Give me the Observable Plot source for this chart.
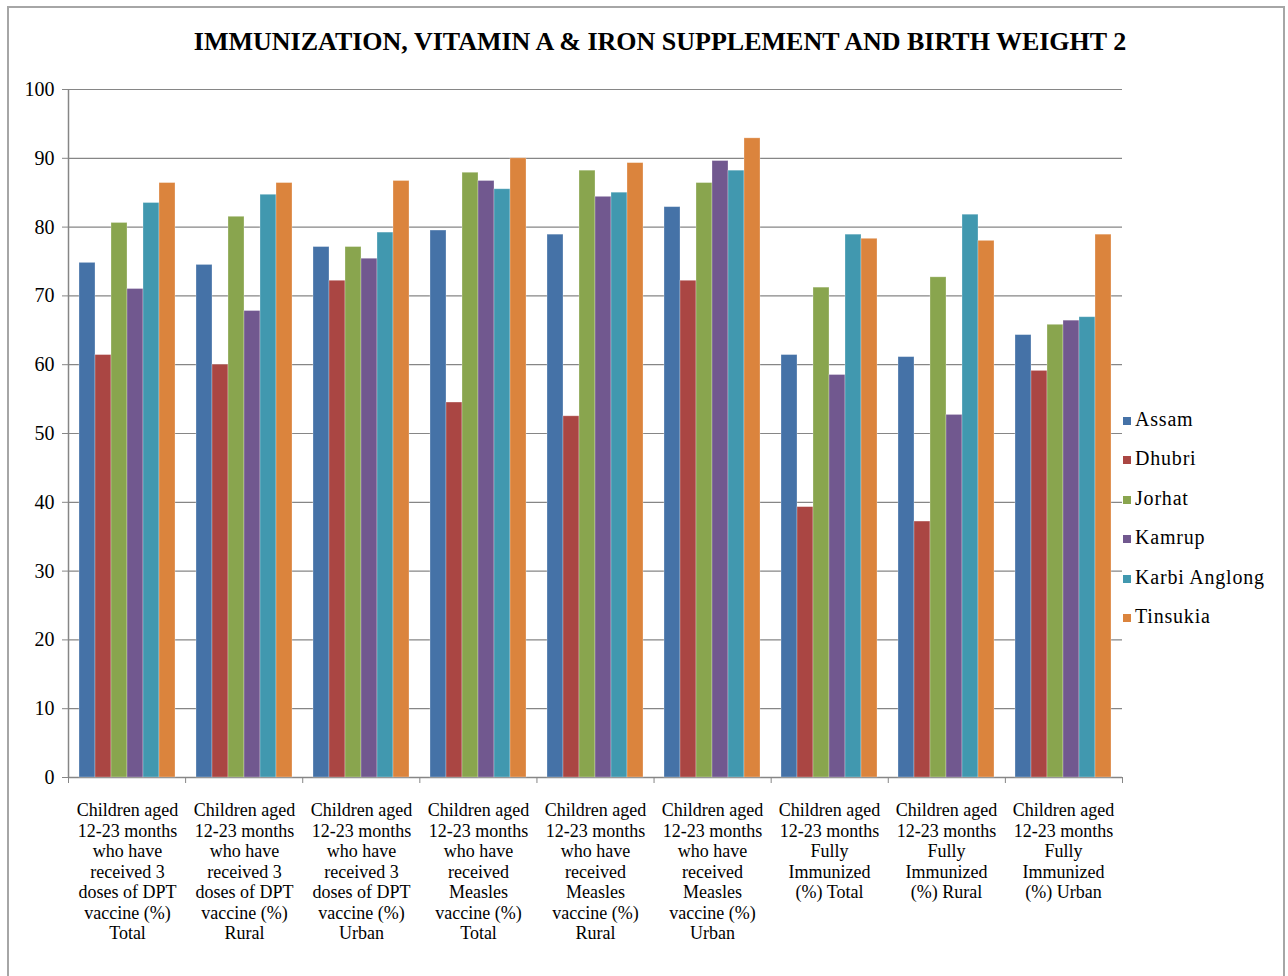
<!DOCTYPE html>
<html>
<head>
<meta charset="utf-8">
<script src="https://cdn.jsdelivr.net/npm/d3@7"></script>
<script src="https://cdn.jsdelivr.net/npm/@observablehq/plot@0.6"></script>
<style>
  html, body { margin: 0; padding: 0; background: #fff; }
  #wrap { position: relative; width: 1288px; height: 976px; overflow: hidden; font-family: "Liberation Serif", "Times New Roman", serif; }
  #border { position: absolute; left: 7px; top: 6px; width: 1278px; height: 1000px; border: 2px solid #a6a6a6; box-sizing: border-box; }
  #title { position: absolute; top: 27px; left: 0; width: 1320px; text-align: center; font-weight: bold; font-size: 26px; color: #000; }
  .layer { position: absolute; left: 0; top: 0; }
  #legend { position: absolute; left: 1123px; top: 408px; font-size: 20px; letter-spacing: 0.8px; color: #000; }
  #legend .item { height: 39.4px; display: flex; align-items: flex-start; }
  #legend .sw { width: 8px; height: 8px; margin-right: 4px; margin-top: 9px; }
</style>
</head>
<body>
<div id="wrap">
  <div id="border"></div>
  <div id="title"></div>
  <div id="grid" class="layer"></div>
  <div id="bars" class="layer"></div>
  <div id="legend"></div>
</div>
<script>
const title = "IMMUNIZATION, VITAMIN A & IRON SUPPLEMENT AND BIRTH WEIGHT 2";

const categories = [
  "Children aged 12-23 months who have received 3 doses of DPT vaccine (%) Total",
  "Children aged 12-23 months who have received 3 doses of DPT vaccine (%) Rural",
  "Children aged 12-23 months who have received 3 doses of DPT vaccine (%) Urban",
  "Children aged 12-23 months who have received Measles vaccine (%) Total",
  "Children aged 12-23 months who have received Measles vaccine (%) Rural",
  "Children aged 12-23 months who have received Measles vaccine (%) Urban",
  "Children aged 12-23 months Fully Immunized (%) Total",
  "Children aged 12-23 months Fully Immunized (%) Rural",
  "Children aged 12-23 months Fully Immunized (%) Urban"
];

const categoryLabels = [
  "Children aged\n12-23 months\nwho have\nreceived 3\ndoses of DPT\nvaccine (%)\nTotal",
  "Children aged\n12-23 months\nwho have\nreceived 3\ndoses of DPT\nvaccine (%)\nRural",
  "Children aged\n12-23 months\nwho have\nreceived 3\ndoses of DPT\nvaccine (%)\nUrban",
  "Children aged\n12-23 months\nwho have\nreceived\nMeasles\nvaccine (%)\nTotal",
  "Children aged\n12-23 months\nwho have\nreceived\nMeasles\nvaccine (%)\nRural",
  "Children aged\n12-23 months\nwho have\nreceived\nMeasles\nvaccine (%)\nUrban",
  "Children aged\n12-23 months\nFully\nImmunized\n(%) Total",
  "Children aged\n12-23 months\nFully\nImmunized\n(%) Rural",
  "Children aged\n12-23 months\nFully\nImmunized\n(%) Urban"
];

const series = ["Assam", "Dhubri", "Jorhat", "Kamrup", "Karbi Anglong", "Tinsukia"];
const colors = ["#4572A7", "#AA4643", "#89A54E", "#71588F", "#4198AF", "#DB843D"];

const assam        = [74.8, 74.5, 77.1, 79.5, 78.9, 82.9, 61.4, 61.1, 64.3];
const dhubri       = [61.4, 60.0, 72.2, 54.5, 52.5, 72.2, 39.3, 37.2, 59.1];
const jorhat       = [80.6, 81.5, 77.1, 87.9, 88.2, 86.4, 71.2, 72.7, 65.8];
const kamrup       = [71.0, 67.8, 75.4, 86.7, 84.4, 89.6, 58.5, 52.7, 66.4];
const karbiAnglong = [83.5, 84.7, 79.2, 85.5, 85.0, 88.2, 78.9, 81.8, 66.9];
const tinsukia     = [86.4, 86.4, 86.7, 90.0, 89.3, 92.9, 78.3, 78.0, 78.9];

const yTicks = [0, 10, 20, 30, 40, 50, 60, 70, 80, 90, 100];

const seriesValues = [assam, dhubri, jorhat, kamrup, karbiAnglong, tinsukia];
const data = [];
categories.forEach((c, i) => {
  series.forEach((s, j) => data.push({category: c, series: s, value: seriesValues[j][i]}));
});

const W = 1288, H = 976;
const margins = {marginTop: 89, marginBottom: 199, marginLeft: 68, marginRight: 166};
const font = '"Liberation Serif", "Times New Roman", serif';

document.getElementById("title").textContent = title;

// Background layer: gridlines, value axis, category boundary ticks
const grid = Plot.plot({
  width: W, height: H, ...margins,
  style: {fontFamily: font, fontSize: "20px", color: "#000", background: "transparent"},
  x: {domain: [0, categories.length], axis: null},
  y: {domain: [0, 100], axis: null},
  marks: [
    Plot.ruleY(yTicks.slice(1), {stroke: "#868686", strokeWidth: 1.2}),
    Plot.axisY({ticks: yTicks, tickSize: 6, tickPadding: 8, stroke: "#868686", tickFormat: d => String(d), fontSize: 20}),
    Plot.ruleX([0], {stroke: "#868686", strokeWidth: 1.5}),
    Plot.ruleY([0], {stroke: "#868686", strokeWidth: 1.5}),
    Plot.axisX({ticks: d3.range(0, categories.length + 1), tickSize: 6, tickFormat: () => "", stroke: "#868686"})
  ]
});
document.getElementById("grid").appendChild(grid);

// Bars layer
const labelOf = new Map(categories.map((c, i) => [c, categoryLabels[i]]));
const bars = Plot.plot({
  width: W, height: H, ...margins,
  style: {fontFamily: font, fontSize: "18px", color: "#000", background: "transparent"},
  fx: {domain: categories, paddingInner: 0.18, paddingOuter: 0.09, label: null},
  x: {domain: series, padding: 0, axis: null},
  y: {domain: [0, 100], axis: null},
  color: {domain: series, range: colors},
  marks: [
    Plot.barY(data, {fx: "category", x: "series", y: "value", fill: "series", stroke: "#ffffff", strokeOpacity: 0.35, strokeWidth: 0.8}),
    Plot.axisFx({anchor: "bottom", tickSize: 0, tickPadding: 24, tickFormat: d => labelOf.get(d), lineHeight: 1.14, fontSize: 18, label: null})
  ]
});
document.getElementById("bars").appendChild(bars);

// Legend
const legend = document.getElementById("legend");
series.forEach((s, i) => {
  const item = document.createElement("div");
  item.className = "item";
  const sw = document.createElement("span");
  sw.className = "sw";
  sw.style.background = colors[i];
  const t = document.createElement("span");
  t.textContent = s;
  item.appendChild(sw);
  item.appendChild(t);
  legend.appendChild(item);
});
</script>
</body>
</html>
